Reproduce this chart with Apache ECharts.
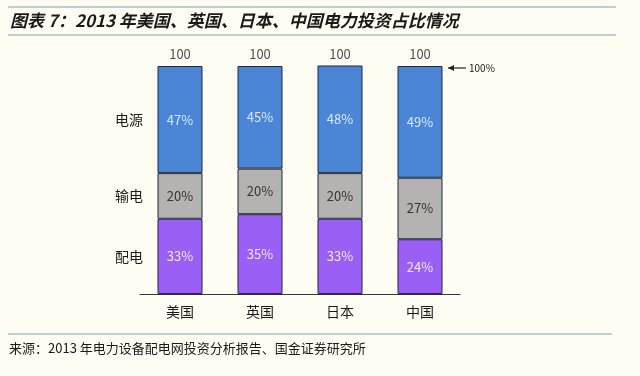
<!DOCTYPE html>
<html>
<head>
<meta charset="utf-8">
<script src="https://cdn.jsdelivr.net/npm/echarts@6/dist/echarts.min.js"></script>
<style>
  html, body { margin: 0; padding: 0; background: #fffcf3; }
  #chart { width: 640px; height: 376px; }
</style>
</head>
<body>
<div id="chart"></div>
<script>
// data (percent of total investment)
var countries = ['美国', '英国', '日本', '中国'];
var seriesNames = ['配电', '输电', '电源'];
var peidian = [33, 35, 33, 24];
var shudian = [20, 20, 20, 27];
var dianyuan = [47, 45, 48, 49];
var totals = [100, 100, 100, 100];

var cjk = '"Noto Sans CJK SC", "Noto Sans", sans-serif';
var lineColor = '#a8c2bd';

var myChart = echarts.init(document.getElementById('chart'));

var pctLabel = function(color) {
    return {
        show: true,
        position: 'inside',
        color: color,
        fontSize: 13,
        fontFamily: cjk,
        formatter: '{c}%'
    };
};

var barStyle = function(color) {
    return { color: color, borderColor: '#1f2b3a', borderWidth: 1 };
};

var option = {
    backgroundColor: '#fffcf3',
    animation: false,
    grid: { left: 140, right: 180, top: 66, bottom: 82 },
    xAxis: {
        type: 'category',
        data: countries,
        axisLine: { lineStyle: { color: '#333', width: 1 } },
        axisTick: { show: false },
        axisLabel: { color: '#1a1a1a', fontSize: 14, fontFamily: cjk, margin: 11 }
    },
    yAxis: { type: 'value', min: 0, max: 100, show: false },
    series: [{
        name: seriesNames[0],
        type: 'bar',
        stack: 'total',
        barWidth: 45,
        data: peidian,
        itemStyle: barStyle('#9a60f6'),
        label: pctLabel('#f0e6ff')
    }, {
        name: seriesNames[1],
        type: 'bar',
        stack: 'total',
        barWidth: 45,
        data: shudian,
        itemStyle: barStyle('#b4b3b2'),
        label: pctLabel('#333')
    }, {
        name: seriesNames[2],
        type: 'bar',
        stack: 'total',
        barWidth: 45,
        data: dianyuan,
        itemStyle: barStyle('#4b85d5'),
        label: pctLabel('#dce8fb')
    }, {
        // totals above each bar
        type: 'scatter',
        data: totals,
        symbolSize: 0,
        silent: true,
        label: {
            show: true,
            position: 'top',
            distance: 5,
            color: '#222',
            fontSize: 13,
            fontFamily: cjk
        }
    }]
};

myChart.setOption(option);

// side labels next to the first bar, arrow at the last one
var graphics = [];
var cum = 0;
var stacks = [peidian, shudian, dianyuan];
for (var i = 0; i < stacks.length; i++) {
    var mid = cum + stacks[i][0] / 2;
    cum += stacks[i][0];
    var p = myChart.convertToPixel({ gridIndex: 0 }, [0, mid]);
    graphics.push({
        type: 'text',
        x: 129,
        y: p[1],
        style: {
            text: seriesNames[i],
            fill: '#1a1a1a',
            font: '14px ' + cjk,
            align: 'center',
            verticalAlign: 'middle'
        }
    });
}

var lastTop = myChart.convertToPixel({ gridIndex: 0 }, [countries.length - 1, totals[3]]);
var ax = lastTop[0] + 28, ay = lastTop[1] + 2;
graphics.push({
    type: 'line',
    shape: { x1: ax, y1: ay, x2: ax + 18, y2: ay },
    style: { stroke: '#222', lineWidth: 1.2 }
});
graphics.push({
    type: 'polygon',
    shape: { points: [[ax, ay], [ax + 6, ay - 3], [ax + 6, ay + 3]] },
    style: { fill: '#222' }
});
graphics.push({
    type: 'text',
    x: ax + 21,
    y: ay,
    style: { text: '100%', fill: '#222', font: '10px ' + cjk, verticalAlign: 'middle' }
});

// title, rules and source
graphics.push({ type: 'line', shape: { x1: 8, y1: 7, x2: 616, y2: 7 }, style: { stroke: lineColor, lineWidth: 1.5 } });
graphics.push({ type: 'line', shape: { x1: 8, y1: 35, x2: 616, y2: 35 }, style: { stroke: lineColor, lineWidth: 1.5 } });
graphics.push({
    type: 'text',
    x: 10,
    y: 21,
    style: {
        text: '图表 7：2013 年美国、英国、日本、中国电力投资占比情况',
        fill: '#1a1a1a',
        font: 'italic bold 17px ' + cjk,
        verticalAlign: 'middle'
    }
});
graphics.push({ type: 'line', shape: { x1: 8, y1: 334, x2: 612, y2: 334 }, style: { stroke: lineColor, lineWidth: 1.5 } });
graphics.push({
    type: 'text',
    x: 9,
    y: 348,
    style: {
        text: '来源：2013 年电力设备配电网投资分析报告、国金证券研究所',
        fill: '#1a1a1a',
        font: '13px ' + cjk,
        verticalAlign: 'middle'
    }
});

myChart.setOption({ graphic: graphics });
</script>
</body>
</html>
